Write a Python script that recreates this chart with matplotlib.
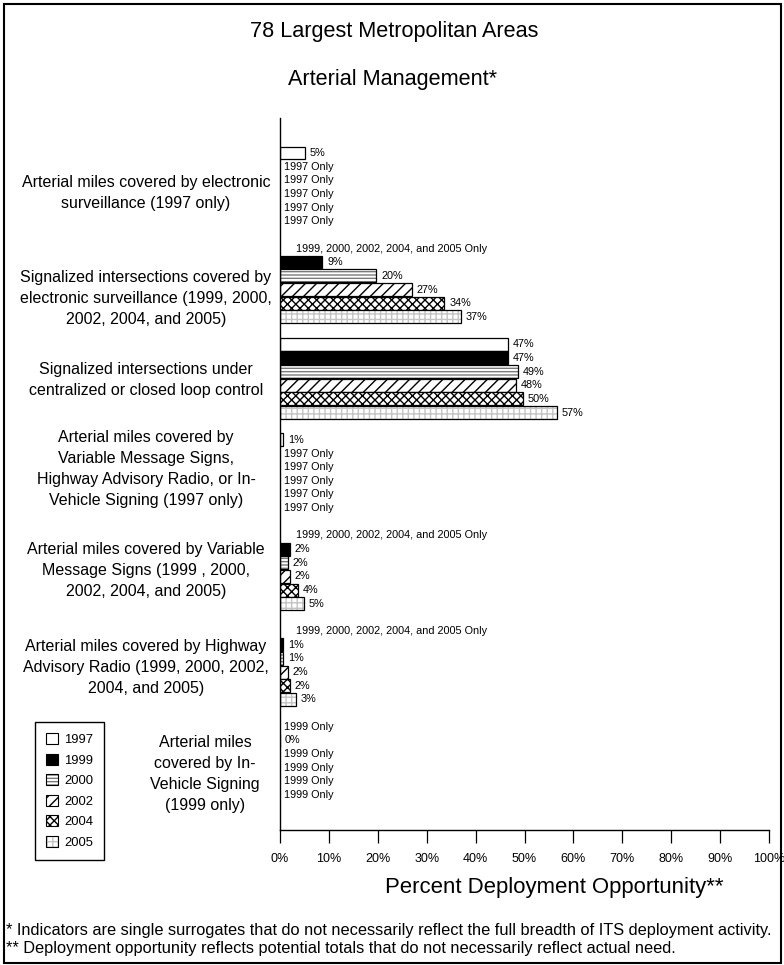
import matplotlib
matplotlib.use("Agg")
import matplotlib.pyplot as plt
from matplotlib.patches import Patch, Rectangle
from matplotlib.legend_handler import HandlerTuple

# categories, top to bottom
categories = [
    "Arterial miles covered by electronic\nsurveillance (1997 only)",
    "Signalized intersections covered by\nelectronic surveillance (1999, 2000,\n2002, 2004, and 2005)",
    "Signalized intersections under\ncentralized or closed loop control",
    "Arterial miles covered by\nVariable Message Signs,\nHighway Advisory Radio, or In-\nVehicle Signing (1997 only)",
    "Arterial miles covered by Variable\nMessage Signs (1999 , 2000,\n2002, 2004, and 2005)",
    "Arterial miles covered by Highway\nAdvisory Radio (1999, 2000, 2002,\n2004, and 2005)",
    "Arterial miles\ncovered by In-\nVehicle Signing\n(1999 only)",
]
years = ["1997", "1999", "2000", "2002", "2004", "2005"]

# percent deployment per year (None = not measured that year)
v1997 = [5.1, None, 46.6, 0.6, None, None, None]
v1999 = [None, 8.6, 46.6, None, 2.0, 0.6, 0.0]
v2000 = [None, 19.7, 48.6, None, 1.6, 0.6, None]
v2002 = [None, 26.9, 48.3, None, 2.0, 1.6, None]
v2004 = [None, 33.6, 49.6, None, 3.6, 2.0, None]
v2005 = [None, 37.0, 56.6, None, 4.9, 3.2, None]
series = [v1997, v1999, v2000, v2002, v2004, v2005]

notes = ["1997 Only", "1999, 2000, 2002, 2004, and 2005 Only", None,
         "1997 Only", "1999, 2000, 2002, 2004, and 2005 Only",
         "1999, 2000, 2002, 2004, and 2005 Only", "1999 Only"]

xticks = [0, 10, 20, 30, 40, 50, 60, 70, 80, 90, 100]

# fill / hatch per year
styles = [
    dict(fc="white", hc="white", hatch=None),
    dict(fc="black", hc="black", hatch=None),
    dict(fc="white", hc="#7a7a7a", hatch="-----"),
    dict(fc="white", hc="black", hatch="///"),
    dict(fc="white", hc="black", hatch="xxxx"),
    dict(fc="white", hc="#c4c4c4", hatch="+++"),
]

plt.rcParams["font.family"] = ["Liberation Sans", "DejaVu Sans"]
plt.rcParams["hatch.linewidth"] = 1.0

fig = plt.figure(figsize=(7.84, 9.65), dpi=100)
ax = fig.add_axes([280 / 784, 135 / 965, 489 / 784, 712 / 965])

SLOT = 7  # 6 bars + one empty slot per category
bar_h = 0.94
for s, vals in enumerate(series):
    st = styles[s]
    for g, v in enumerate(vals):
        y = g * SLOT + s
        if v is None:
            note = notes[g]
            pad = 16 if note.startswith("1999,") else 4
            ax.annotate(note, xy=(0, y), xytext=(pad, 0), textcoords="offset pixels",
                        ha="left", va="center", fontsize=7.8)
            continue
        ax.barh(y, v, height=bar_h, color=st["fc"], edgecolor=st["hc"],
                hatch=st["hatch"], linewidth=0)
        ax.barh(y, v, height=bar_h, fill=False, edgecolor="black", linewidth=0.9)
        ax.annotate(f"{v:.0f}%", xy=(v, y), xytext=(5, 0), textcoords="offset pixels",
                    ha="left", va="center", fontsize=7.8)

# small vertical nudges so the wrapped labels sit where the original has them
label_dy = [0.4, 1.15, 0.15, -0.4, 0.1, 0.2, 0.95]
for g, name in enumerate(categories):
    xc = 205 / 784 if g == len(categories) - 1 else 146 / 784
    ax.annotate(name, xy=(xc, g * SLOT + 2.5 + label_dy[g]),
                xycoords=("figure fraction", "data"),
                ha="center", va="center", multialignment="center",
                fontsize=11.5, linespacing=1.5, annotation_clip=False)

ax.set_xlim(0, 100)
ax.set_ylim(6 * SLOT + 5 + 2.56, -2.56)
ax.set_xticks(xticks)
ax.set_xticklabels([f"{t}%" for t in xticks], fontsize=9)
ax.set_yticks([])
ax.tick_params(axis="x", direction="out", length=9.5, width=0.9, pad=7.2)
for side in ["top", "right"]:
    ax.spines[side].set_visible(False)
ax.spines["left"].set_linewidth(1.0)
ax.spines["bottom"].set_linewidth(1.0)

# legend
handles = []
for st in styles:
    handles.append((Patch(facecolor=st["fc"], edgecolor=st["hc"], hatch=st["hatch"], linewidth=0),
                    Patch(fill=False, edgecolor="black", linewidth=0.8)))
leg = fig.legend(handles, years, loc="upper left", bbox_to_anchor=(35 / 784, 1 - 722 / 965),
                 handler_map={tuple: HandlerTuple(ndivide=1)}, fontsize=9.4,
                 frameon=True, fancybox=False, edgecolor="black", framealpha=1,
                 handlelength=0.92, handleheight=0.92, handletextpad=0.45,
                 labelspacing=0.58, borderpad=0.85, borderaxespad=0)
leg.get_frame().set_linewidth(1.0)

fig.text(394 / 784, 1 - 31 / 965, "78 Largest Metropolitan Areas", ha="center", va="center",
         fontsize=15.6)
fig.text(392 / 784, 1 - 79 / 965, "Arterial Management*", ha="center", va="center",
         fontsize=15.6)
fig.text(554 / 784, 1 - 888 / 965, "Percent Deployment Opportunity**", ha="center",
         va="center", fontsize=15.9)
fig.text(6 / 784, 1 - 930 / 965,
         "* Indicators are single surrogates that do not necessarily reflect the full breadth of ITS deployment activity.",
         ha="left", va="center", fontsize=11.8)
fig.text(6 / 784, 1 - 948 / 965,
         "** Deployment opportunity reflects potential totals that do not necessarily reflect actual need.",
         ha="left", va="center", fontsize=11.8)

fig.patches.append(Rectangle((4 / 784, 2 / 965), 777 / 784, 959 / 965, transform=fig.transFigure,
                             fill=False, edgecolor="black", linewidth=1.5))

fig.savefig("out.png", dpi=100)
